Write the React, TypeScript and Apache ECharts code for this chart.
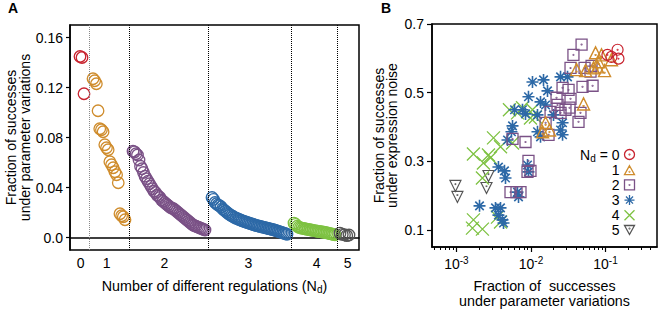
import React, { useEffect, useRef } from 'react';
import * as echarts from 'echarts';

const FONT = '"Liberation Sans", Arial, Helvetica, sans-serif';

// ---------- Panel A : fraction of successes under parameter variations (ranked within each N_d) ----------
const aN0 = [0.1448, 0.144, 0.115];
const aN1 = [0.127, 0.1254, 0.123, 0.1014, 0.087, 0.0862, 0.0846, 0.0742, 0.0718, 0.0702, 0.0606, 0.0582, 0.0558, 0.0526, 0.0502, 0.0438, 0.019, 0.0174, 0.0166, 0.0142];
const aN2 = [0.069, 0.0685, 0.067, 0.066, 0.062, 0.057, 0.055, 0.052, 0.049, 0.047, 0.045, 0.043, 0.041, 0.039, 0.037, 0.036, 0.034, 0.033, 0.032, 0.030, 0.029, 0.028, 0.027, 0.026, 0.025, 0.024, 0.0235, 0.023, 0.022, 0.021, 0.020, 0.019, 0.018, 0.017, 0.016, 0.015, 0.014, 0.013, 0.012, 0.011, 0.010, 0.0095, 0.009, 0.0085, 0.008, 0.0075, 0.007, 0.0065, 0.006];
const aN3 = [0.032, 0.0305, 0.028, 0.027, 0.026, 0.0255, 0.0245, 0.023, 0.022, 0.021, 0.020, 0.019, 0.0182, 0.0175, 0.0168, 0.0161, 0.0155, 0.015, 0.0145, 0.014, 0.0135, 0.013, 0.0126, 0.0122, 0.0118, 0.0114, 0.011, 0.0106, 0.0102, 0.0098, 0.0095, 0.0092, 0.0089, 0.0086, 0.0083, 0.008, 0.0077, 0.0074, 0.0071, 0.0068, 0.0065, 0.0062, 0.0058, 0.0054, 0.005, 0.0046, 0.0042, 0.0038, 0.0034, 0.003, 0.0026];
const aN4 = [0.0115, 0.0105, 0.009, 0.0082, 0.0078, 0.0075, 0.0072, 0.007, 0.0067, 0.0064, 0.0062, 0.006, 0.0057, 0.0055, 0.0052, 0.005, 0.0048, 0.0046, 0.0044, 0.0042, 0.004, 0.0037, 0.0034, 0.0031, 0.0028, 0.0025, 0.0022];
const aN5 = [0.0035, 0.0025, 0.0022, 0.0015, 0.002];
// rank-axis span occupied by each group (first rank, last rank)
const aSpans: [number, number][] = [[10, 14], [23, 55], [63, 135], [142, 217], [224, 265], [270, 279]];
const aSeparators = [19, 59.3, 138.3, 221.7, 267.7];
const aLabelPos = [10.7, 36.7, 94.3, 178.3, 246.7, 277.7];
const aLabelText = ['0', '1', '2', '3', '4', '5'];
const aYTicks = [0, 0.04, 0.08, 0.12, 0.16];

// ---------- Panel B : [fraction under parameter variations, fraction under expression noise] ----------
const bN0: [number, number][] = [[0.145, 0.625], [0.106, 0.61], [0.12, 0.604], [0.149, 0.599]];
const bN1: [number, number][] = [[0.0735, 0.616], [0.0883, 0.61], [0.12, 0.596], [0.0805, 0.59], [0.0408, 0.567], [0.054, 0.564], [0.069, 0.572], [0.078, 0.575], [0.097, 0.564], [0.0507, 0.467], [0.0157, 0.412], [0.0143, 0.386], [0.0177, 0.391]];
const bN2: [number, number][] = [[0.0477, 0.64], [0.0371, 0.61], [0.0339, 0.572], [0.0523, 0.572], [0.0649, 0.578], [0.0629, 0.561], [0.0491, 0.517], [0.067, 0.52], [0.0265, 0.514], [0.0319, 0.508], [0.022, 0.485], [0.0339, 0.482], [0.0329, 0.456], [0.0461, 0.441], [0.0434, 0.415], [0.0183, 0.444], [0.0249, 0.441], [0.0157, 0.412], [0.0172, 0.377], [0.00844, 0.356], [0.00565, 0.365], [0.00925, 0.301], [0.00984, 0.272], [0.00898, 0.269], [0.00639, 0.21], [0.00531, 0.21], [0.00723, 0.21], [0.0227, 0.464], [0.029, 0.45]];
const bN3: [number, number][] = [[0.01047, 0.531], [0.01472, 0.537], [0.0249, 0.546], [0.0309, 0.546], [0.01665, 0.505], [0.00925, 0.488], [0.01342, 0.473], [0.01567, 0.464], [0.00601, 0.45], [0.00769, 0.45], [0.00844, 0.438], [0.01222, 0.435], [0.02005, 0.435], [0.0265, 0.412], [0.0249, 0.391], [0.0265, 0.377], [0.01222, 0.386], [0.01342, 0.371], [0.00565, 0.403], [0.00547, 0.386], [0.00484, 0.362], [0.00366, 0.283], [0.00441, 0.272], [0.00455, 0.251], [0.00204, 0.17], [0.00334, 0.164], [0.0039, 0.164], [0.00366, 0.143], [0.00414, 0.129], [0.00428, 0.12], [0.00898, 0.289], [0.00925, 0.269], [0.00659, 0.21], [0.0068, 0.196]];
const bN4: [number, number][] = [[0.00169, 0.321], [0.00269, 0.318], [0.00286, 0.31], [0.0023, 0.295], [0.00223, 0.251], [0.0039, 0.342], [0.00565, 0.353], [0.00314, 0.368], [0.00514, 0.45], [0.00659, 0.441], [0.00769, 0.456], [0.01047, 0.45], [0.01148, 0.429], [0.00984, 0.426], [0.00169, 0.129], [0.00223, 0.102], [0.00164, 0.105], [0.00355, 0.137], [0.0039, 0.123]];
const bN5: [number, number][] = [[0.000969, 0.228], [0.00103, 0.196], [0.00269, 0.257], [0.00253, 0.222]];
const bXMajor = [0.001, 0.01, 0.1];
const bXMinor = [0.0005, 0.0006, 0.0007, 0.0008, 0.0009, 0.002, 0.003, 0.004, 0.005, 0.006, 0.007, 0.008, 0.009, 0.02, 0.03, 0.04, 0.05, 0.06, 0.07, 0.08, 0.09, 0.2, 0.3, 0.4];
const bYTicks = [0.1, 0.3, 0.5, 0.7];
const groupNames = ['0', '1', '2', '3', '4', '5'];

const COLORS = ['#C8222E', '#CF8C2C', '#7A5186', '#2D69A7', '#7EC242', '#555555'];

const P_CIRCLE = 'path://M0,-10A10,10 0 1,1 0,10A10,10 0 1,1 0,-10Z';
const P_CIRCLE_DOT = 'path://M0,-10A10,10 0 1,1 0,10A10,10 0 1,1 0,-10ZM0,-0.7A0.7,0.7 0 1,1 0,0.7A0.7,0.7 0 1,1 0,-0.7Z';
const P_TRI_UP = 'path://M0,-10L10,8L-10,8ZM0,1.3A0.7,0.7 0 1,1 0,2.7A0.7,0.7 0 1,1 0,1.3Z';
const P_SQUARE = 'path://M-10,-10L10,-10L10,10L-10,10ZM0,-0.7A0.7,0.7 0 1,1 0,0.7A0.7,0.7 0 1,1 0,-0.7Z';
const P_STAR = 'path://M0,-10L0,10M-10,0L10,0M-7.07,-7.07L7.07,7.07M-7.07,7.07L7.07,-7.07';
const P_CROSS = 'path://M-10,-10L10,10M-10,10L10,-10';
const P_TRI_DOWN = 'path://M0,10L10,-8L-10,-8ZM0,-2.7A0.7,0.7 0 1,1 0,-1.3A0.7,0.7 0 1,1 0,-2.7Z';
const B_SYMBOLS = [P_CIRCLE_DOT, P_TRI_UP, P_SQUARE, P_STAR, P_CROSS, P_TRI_DOWN];
const B_SIZES = [11, 12, 11, 12, 13, 11];
const B_WIDTHS = [1.2, 1.4, 1.3, 1.6, 1.3, 1.2];

const txt = { fontFamily: FONT, color: '#000' };

function buildOption() {
  const aGroups = [aN0, aN1, aN2, aN3, aN4, aN5];
  const bGroups = [bN0, bN1, bN2, bN3, bN4, bN5];

  const aSeries = aGroups.map((vals, g) => {
    const [s, e] = aSpans[g];
    const step = vals.length > 1 ? (e - s) / (vals.length - 1) : 0;
    const data = vals.map((v, i) => [s + i * step, v]);
    const ser: any = {
      type: 'scatter',
      name: 'A' + g,
      xAxisIndex: 0,
      yAxisIndex: 0,
      data,
      symbol: P_CIRCLE,
      symbolSize: 11.5,
      itemStyle: { color: 'none', borderColor: COLORS[g], borderWidth: 1.3, opacity: 1 },
      z: 3,
    };
    if (g === 0) {
      ser.markLine = {
        silent: true,
        symbol: ['none', 'none'],
        label: { show: false },
        animation: false,
        data: aSeparators.map((x, i) => ({
          xAxis: x,
          lineStyle: { type: 'dotted', color: i === 0 ? '#888' : '#000', width: 1 },
        })),
      };
    }
    return ser;
  });

  const bSeries = bGroups.map((pts, g) => ({
    type: 'scatter',
    name: groupNames[g],
    xAxisIndex: 1,
    yAxisIndex: 1,
    data: pts,
    symbol: B_SYMBOLS[g],
    symbolSize: B_SIZES[g],
    itemStyle: { color: 'none', borderColor: COLORS[g], borderWidth: B_WIDTHS[g], opacity: 1 },
    z: 3 + (5 - g),
  }));

  const axisLine = { show: true, lineStyle: { color: '#000', width: 1.5 } };

  return {
    animation: false,
    backgroundColor: '#fff',
    title: [
      { text: 'A', left: 8, top: 1, padding: 0, textStyle: { ...txt, fontSize: 14, fontWeight: 'bold' } },
      { text: 'B', left: 381, top: 1, padding: 0, textStyle: { ...txt, fontSize: 14, fontWeight: 'bold' } },
    ],
    grid: [
      { left: 70, top: 25, width: 289, height: 225, show: true, borderColor: '#000', borderWidth: 1.5, backgroundColor: 'transparent' },
      { left: 432, top: 24, width: 225, height: 224, show: true, borderColor: '#000', borderWidth: 1.5, backgroundColor: 'transparent' },
    ],
    xAxis: [
      {
        gridIndex: 0,
        type: 'value',
        min: 0,
        max: 289,
        axisLine,
        axisTick: { show: false },
        splitLine: { show: false },
        axisLabel: {
          customValues: aLabelPos,
          formatter: (v: number) => {
            const i = aLabelPos.findIndex((p) => Math.abs(p - v) < 0.01);
            return i >= 0 ? aLabelText[i] : '';
          },
          margin: 6,
          fontSize: 14,
          ...txt,
        },
        name: 'Number of different regulations (N{sub|d})',
        nameLocation: 'middle',
        nameGap: 28,
        nameTextStyle: {
          ...txt,
          fontSize: 14.3,
          lineHeight: 16,
          rich: { sub: { fontFamily: FONT, color: '#000', fontSize: 10, padding: [7, 0, 0, 0], lineHeight: 16 } },
        },
      },
      {
        gridIndex: 1,
        type: 'log',
        logBase: 10,
        min: 0.00047,
        max: 0.49,
        position: 'bottom',
        axisLine,
        axisTick: { show: true, customValues: bXMajor, length: 5, lineStyle: { color: '#000', width: 1.2 } },
        splitLine: { show: false },
        minorTick: { show: false },
        axisLabel: {
          customValues: bXMajor,
          formatter: (v: number) => '10{sup|' + Math.round(Math.log10(v)) + '}',
          margin: 8,
          fontSize: 14,
          ...txt,
          rich: { sup: { fontFamily: FONT, color: '#000', fontSize: 10, padding: [0, 0, 8, 0] } },
        },
        name: 'Fraction of  successes\nunder parameter variations',
        nameLocation: 'middle',
        nameGap: 31,
        nameTextStyle: { ...txt, fontSize: 14.3, lineHeight: 15.5 },
      },
      {
        gridIndex: 1,
        type: 'log',
        logBase: 10,
        min: 0.00047,
        max: 0.49,
        position: 'bottom',
        axisLine: { show: false },
        axisTick: { show: true, customValues: bXMinor, length: 3, lineStyle: { color: '#000', width: 1 } },
        axisLabel: { show: false },
        splitLine: { show: false },
      },
    ],
    yAxis: [
      {
        gridIndex: 0,
        type: 'value',
        min: -0.01,
        max: 0.17,
        axisLine,
        axisTick: { show: true, customValues: aYTicks, length: 4, lineStyle: { color: '#000', width: 1.2 } },
        splitLine: { show: false },
        axisLabel: {
          customValues: aYTicks,
          formatter: (v: number) => (Math.abs(v) < 1e-9 ? '0.0' : v.toFixed(2)),
          margin: 7,
          fontSize: 14,
          ...txt,
        },
        name: 'Fraction of successes\nunder parameter variations',
        nameLocation: 'middle',
        nameGap: 30,
        nameTextStyle: { ...txt, fontSize: 14, lineHeight: 14 },
      },
      {
        gridIndex: 1,
        type: 'value',
        min: 0.05,
        max: 0.7,
        axisLine,
        axisTick: { show: true, customValues: bYTicks, length: 5, lineStyle: { color: '#000', width: 1.2 } },
        splitLine: { show: false },
        axisLabel: {
          customValues: bYTicks,
          formatter: (v: number) => v.toFixed(1),
          margin: 8,
          fontSize: 14,
          ...txt,
        },
        name: 'Fraction of successes\nunder expression noise',
        nameLocation: 'middle',
        nameGap: 34,
        nameTextStyle: { ...txt, fontSize: 14, lineHeight: 13 },
      },
    ],
    legend: {
      orient: 'vertical',
      right: 23,
      top: 146,
      align: 'right',
      padding: 0,
      itemWidth: 10,
      itemHeight: 10,
      itemGap: 0.2,
      selectedMode: false,
      data: groupNames.map((n, i) => ({
        name: n,
        icon: B_SYMBOLS[i],
        itemStyle: { color: 'none', borderColor: COLORS[i], borderWidth: 1.3 },
      })),
      formatter: (name: string) => (name === '0' ? 'N{sub|d} = 0' : name),
      textStyle: {
        ...txt,
        fontSize: 14,
        lineHeight: 14,
        rich: { sub: { fontFamily: FONT, color: '#000', fontSize: 10, padding: [7, 0, 0, 0], lineHeight: 14 } },
      },
    },
    series: [...aSeries, ...bSeries],
  };
}

export default function App() {
  const ref = useRef<HTMLDivElement>(null);
  useEffect(() => {
    const chart = echarts.init(ref.current as HTMLDivElement, null, { renderer: 'svg' });
    chart.setOption(buildOption() as any);
    return () => chart.dispose();
  }, []);
  return (
    <div
      ref={ref}
      style={{ position: 'fixed', left: 0, top: 0, width: 660, height: 314, background: '#fff' }}
    />
  );
}
